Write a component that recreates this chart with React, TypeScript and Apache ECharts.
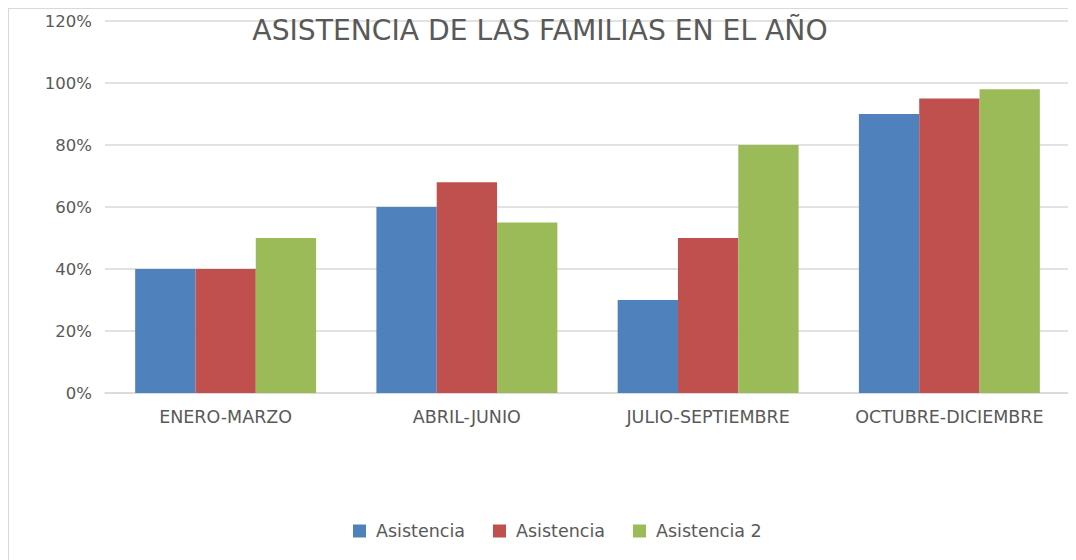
import React, { useEffect, useRef } from "react";
import * as echarts from "echarts";

const titleText = "ASISTENCIA DE LAS FAMILIAS EN EL AÑO";
const categories = ["ENERO-MARZO", "ABRIL-JUNIO", "JULIO-SEPTIEMBRE", "OCTUBRE-DICIEMBRE"];
const seriesNames = ["Asistencia", "Asistencia ", "Asistencia 2"];
const asistenciaA = [40, 60, 30, 90];
const asistenciaB = [40, 68, 50, 95];
const asistencia2 = [50, 55, 80, 98];
const seriesColors = ["#4F81BD", "#C0504D", "#9BBB59"];

const FONT = "'DejaVu Sans', 'Open Sans', sans-serif";

export default function App() {
  const ref = useRef<HTMLDivElement>(null);
  useEffect(() => {
    if (!ref.current) return;
    const chart = echarts.init(ref.current, null, { renderer: "svg" });
    const values = [asistenciaA, asistenciaB, asistencia2];
    chart.setOption({
      animation: false,
      backgroundColor: "#ffffff",
      textStyle: { fontFamily: FONT },
      graphic: [
        {
          type: "text",
          x: 531,
          y: 21,
          z: 100,
          style: {
            text: titleText,
            fontSize: 28.2,
            fontFamily: FONT,
            fill: "#595959",
            textAlign: "center",
            textVerticalAlign: "middle",
          },
        },
      ],
      legend: {
        data: seriesNames,
        top: 508,
        left: 339,
        itemWidth: 13,
        itemHeight: 13,
        itemGap: 28,
        icon: "rect",
        formatter: (name: string) => name.trim(),
        textStyle: { fontSize: 17.5, color: "#595959", fontFamily: FONT, padding: [0, 0, 0, 5] },
      },
      grid: { left: 96, top: 12, width: 965, height: 372, containLabel: false },
      xAxis: {
        type: "category",
        data: categories,
        axisLine: { show: true, lineStyle: { color: "#d9d9d9", width: 1.5 } },
        axisTick: { show: false },
        axisLabel: { color: "#595959", fontSize: 17.5, margin: 15, fontFamily: FONT, interval: 0 },
      },
      yAxis: {
        type: "value",
        min: 0,
        max: 120,
        interval: 20,
        axisLine: { show: false },
        axisTick: { show: false },
        splitLine: { lineStyle: { color: "#d9d9d9", width: 1.5 } },
        axisLabel: {
          color: "#595959",
          fontSize: 16.5,
          margin: 13,
          fontFamily: FONT,
          formatter: (v: number) => v + "%",
        },
      },
      series: seriesNames.map((name, i) => ({
        name,
        type: "bar",
        data: values[i],
        barGap: "0%",
        barCategoryGap: "25%",
        itemStyle: { color: seriesColors[i] },
      })),
    });
    return () => chart.dispose();
  }, []);
  return (
    <div
      style={{
        width: 1067,
        height: 551,
        borderTop: "1px solid #d9d9d9",
        borderLeft: "1px solid #d9d9d9",
      }}
    >
      <div ref={ref} style={{ width: 1067, height: 551 }} />
    </div>
  );
}
